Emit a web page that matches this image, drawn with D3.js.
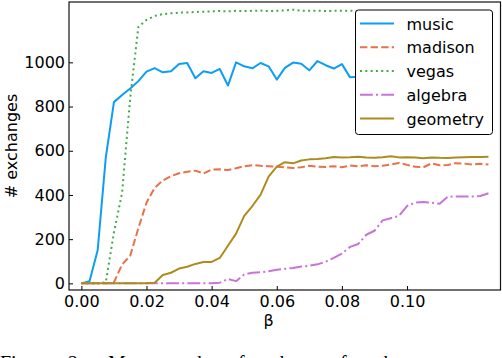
<!DOCTYPE html>
<html>
<head>
<meta charset="utf-8">
<script src="https://cdn.jsdelivr.net/npm/d3@7"></script>
<style>
  body { margin: 0; background: #fff; }
  svg { display: block; font-family: "DejaVu Sans", sans-serif; }
</style>
</head>
<body>
<div id="chart"></div>
<script>
// beta grid (x values)
const betas = [0, 0.0025, 0.005, 0.0075, 0.01, 0.0125, 0.015, 0.0175, 0.02, 0.0225,
  0.025, 0.0275, 0.03, 0.0325, 0.035, 0.0375, 0.04, 0.0425, 0.045, 0.0475,
  0.05, 0.0525, 0.055, 0.0575, 0.06, 0.0625, 0.065, 0.0675, 0.07, 0.0725,
  0.075, 0.0775, 0.08, 0.0825, 0.085, 0.0875, 0.09, 0.0925, 0.095, 0.0975,
  0.1, 0.1025, 0.105, 0.1075, 0.11, 0.1125, 0.115, 0.1175, 0.12, 0.1225, 0.125];

const music = [0, 10, 150, 570, 820, 852, 882, 915, 958, 974,
  955, 960, 993, 997, 928, 960, 952, 970, 895, 1000,
  982, 973, 997, 982, 922, 975, 999, 994, 964, 1006,
  987, 972, 992, 932, 935, 960, 975, 950, 985, 970,
  990, 960, 980, 995, 965, 985, 970, 990, 975, 985, 980];

const madison = [0, 0, 0, 0, 5, 85, 125, 250, 365, 432,
  465, 485, 498, 505, 510, 497, 515, 516, 513, 521,
  530, 535, 532, 530, 528, 525, 522, 525, 532, 528,
  527, 530, 525, 533, 530, 534, 530, 532, 538, 545,
  536, 528, 525, 543, 534, 536, 544, 542, 538, 541, 538];

const vegas = [0, 0, 0, 5, 230, 410, 840, 1160, 1192, 1210,
  1218, 1222, 1225, 1226, 1228, 1229, 1231, 1232, 1231, 1233,
  1232, 1233, 1234, 1232, 1233, 1235, 1238, 1234, 1233, 1234,
  1232, 1233, 1233, 1234, 1232, 1232, 1232, 1232, 1232, 1232,
  1232, 1232, 1232, 1232, 1232, 1232, 1232, 1232, 1232, 1232, 1232];

const algebra = [0, 0, 0, 0, 0, 0, 0, 0, 0, 0,
  0, 0, 0, 0, 0, 0, 0, 3, 20, 10,
  40, 48, 50, 55, 62, 66, 70, 76, 80, 86,
  98, 115, 135, 165, 178, 220, 238, 285, 295, 305,
  350, 365, 368, 365, 360, 392, 393, 393, 393, 395, 408];

const geometry = [0, 0, 0, 0, 0, 0, 0, 0, 0, 3,
  38, 48, 67, 75, 88, 97, 97, 115, 170, 225,
  305, 350, 400, 483, 528, 548, 543, 556, 561, 563,
  566, 572, 570, 571, 573, 570, 568, 571, 575, 570,
  571, 569, 566, 570, 568, 567, 570, 571, 572, 572, 573];

const seriesNames = ["music", "madison", "vegas", "algebra", "geometry"];
const seriesValues = [music, madison, vegas, algebra, geometry];
const seriesColors = ["#0d9df5", "#e8714a", "#45a94b", "#c873d8", "#ae8b1f"];
const seriesDashes = [null, "7.4,3.2", "2,3.3", "12.8,3.2,2,3.2", null];

const xTicks = [0, 0.02, 0.04, 0.06, 0.08, 0.10];
const yTicks = [0, 200, 400, 600, 800, 1000];

const width = 502, height = 358;
const margin = {top: 2, right: 1.5, bottom: 68, left: 69};
const plotW = width - margin.left - margin.right,
      plotH = height - margin.top - margin.bottom;

const svg = d3.select("#chart")
    .append("svg")
    .attr("width", width)
    .attr("height", height);

const g = svg.append("g")
    .attr("transform", `translate(${margin.left},${margin.top})`);

const xScale = d3.scaleLinear()
    .domain([-0.0038, 0.1287])
    .range([0, plotW]);

const yScale = d3.scaleLinear()
    .domain([-30, 1273])
    .range([plotH, 0]);

g.append("defs").append("clipPath").attr("id", "clip")
    .append("rect").attr("width", plotW).attr("height", plotH);

// axes with inward ticks
const xAxis = g.append("g")
    .attr("transform", `translate(0,${plotH})`)
    .call(d3.axisBottom(xScale).tickValues(xTicks).tickFormat(d3.format(".2f"))
        .tickSizeInner(-4).tickSizeOuter(0).tickPadding(6));

const yAxis = g.append("g")
    .call(d3.axisLeft(yScale).tickValues(yTicks).tickFormat(d3.format("d"))
        .tickSizeInner(-4).tickSizeOuter(0).tickPadding(4));

[xAxis, yAxis].forEach(ax => {
    ax.select(".domain").remove();
    ax.selectAll(".tick line").attr("stroke", "#000").attr("stroke-width", 1);
    ax.selectAll(".tick text")
        .attr("fill", "#000")
        .style("font-family", "DejaVu Sans")
        .style("font-size", "16px");
});

// lines
const line = d3.line()
    .x((d, i) => xScale(betas[i]))
    .y(d => yScale(d));

const lines = g.append("g").attr("clip-path", "url(#clip)");
seriesValues.forEach((vals, k) => {
    lines.append("path")
        .datum(vals)
        .attr("d", line)
        .attr("fill", "none")
        .attr("stroke", seriesColors[k])
        .attr("stroke-width", 2)
        .attr("stroke-linejoin", "round")
        .attr("stroke-dasharray", seriesDashes[k]);
});

// frame
g.append("rect")
    .attr("width", plotW)
    .attr("height", plotH)
    .attr("fill", "none")
    .attr("stroke", "#111")
    .attr("stroke-width", 1.2);

// legend
const legend = svg.append("g").attr("transform", "translate(355.5,10)");
legend.append("rect")
    .attr("width", 137)
    .attr("height", 124.5)
    .attr("rx", 3)
    .attr("fill", "#fff")
    .attr("stroke", "#000")
    .attr("stroke-width", 1);

seriesNames.forEach((name, k) => {
    const row = legend.append("g").attr("transform", `translate(0,${13.5 + k * 23.75})`);
    row.append("line")
        .attr("x1", 4.5).attr("x2", 38.5)
        .attr("stroke", seriesColors[k])
        .attr("stroke-width", 2)
        .attr("stroke-dasharray", seriesDashes[k]);
    row.append("text")
        .attr("x", 51)
        .attr("y", 6)
        .style("font-size", "16px")
        .attr("fill", "#000")
        .text(name);
});

// axis labels
svg.append("text")
    .attr("transform", "translate(17,146) rotate(-90)")
    .attr("text-anchor", "middle")
    .style("font-size", "16px")
    .text("# exchanges");

svg.append("text")
    .attr("x", margin.left + xScale(0.0575))
    .attr("y", 326)
    .attr("text-anchor", "middle")
    .style("font-size", "16px")
    .text("β");

// caption below the figure (only the tops of its letters show in the frame)
const caption = svg.append("text")
    .style("font-family", "'Liberation Serif', serif")
    .style("font-size", "20px")
    .attr("fill", "#000");
[["Figure", 0], ["2:", 68], ["Mean", 108], ["number", 162], ["of", 228],
 ["exchanges", 252], ["for", 340], ["the", 378]].forEach(([w, x]) => {
    caption.append("tspan").attr("x", x).attr("y", 370).text(w);
});
</script>
</body>
</html>
